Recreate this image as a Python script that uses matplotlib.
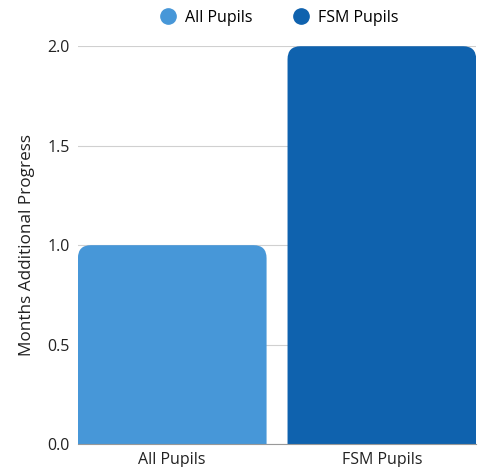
import matplotlib.pyplot as plt
from matplotlib.path import Path
from matplotlib.patches import PathPatch
from matplotlib.lines import Line2D

# Data
categories = ['All Pupils', 'FSM Pupils']
values = [1.0, 2.0]
colors = ['#4797d8', '#0f62ae']
y_ticks = [0.0, 0.5, 1.0, 1.5, 2.0]

plt.rcParams['font.family'] = ['Open Sans', 'DejaVu Sans']

fig = plt.figure(figsize=(4.81, 4.67), dpi=100)
ax = fig.add_axes([0.162, 0.049, 0.828, 0.852])

x = range(len(categories))
bars = ax.bar(x, values, width=0.9, color=colors)
ax.set_xlim(-0.45, len(categories) - 1 + 0.45)
ax.set_ylim(0, 2.0)

# swap plain rectangles for ones with rounded top corners
fig.canvas.draw()
px_x = ax.transData.transform((1, 0))[0] - ax.transData.transform((0, 0))[0]
px_y = ax.transData.transform((0, 1))[1] - ax.transData.transform((0, 0))[1]
r = 13
rx, ry = r / px_x, r / px_y
for b in bars:
    x0, w, h = b.get_x(), b.get_width(), b.get_height()
    x1 = x0 + w
    verts = [(x0, 0), (x0, h - ry), (x0, h), (x0 + rx, h),
             (x1 - rx, h), (x1, h), (x1, h - ry), (x1, 0), (x0, 0)]
    codes = [Path.MOVETO, Path.LINETO, Path.CURVE3, Path.CURVE3,
             Path.LINETO, Path.CURVE3, Path.CURVE3, Path.LINETO, Path.CLOSEPOLY]
    ax.add_patch(PathPatch(Path(verts, codes), facecolor=b.get_facecolor(),
                           edgecolor='none', zorder=3))
    b.set_visible(False)

ax.set_yticks(y_ticks)
ax.set_yticklabels([f'{t:.1f}' for t in y_ticks])
ax.set_xticks(list(x))
ax.set_xticklabels(categories)
ax.tick_params(length=0, labelsize=11.5, colors='#222222', pad=6)
ax.grid(axis='y', color='#d0d0d0', linewidth=0.8, zorder=0)
ax.set_axisbelow(True)
for s in ['top', 'right', 'left']:
    ax.spines[s].set_visible(False)
ax.spines['bottom'].set_color('#999999')
ax.spines['bottom'].set_zorder(4)

ax.set_ylabel('Months Additional Progress', fontsize=12.3, color='#222222', labelpad=9)

handles = [Line2D([], [], marker='o', linestyle='none', markersize=11,
                  markerfacecolor=c, markeredgecolor=c) for c in colors]
fig.legend(handles, categories, loc='upper center', bbox_to_anchor=(0.572, 1.01),
           ncol=2, frameon=False, fontsize=11.5, handletextpad=0.1, columnspacing=2.0)

fig.savefig('out.png', dpi=100)
